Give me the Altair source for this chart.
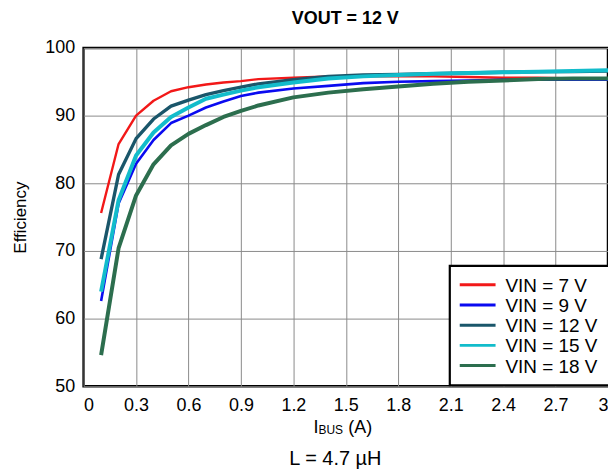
import altair as alt
import pandas as pd

# Load current I_BUS (A)
current = [0.1, 0.2, 0.3, 0.4, 0.5, 0.6, 0.7, 0.8, 0.9, 1.0,
           1.2, 1.4, 1.6, 1.8, 2.0, 2.2, 2.4, 2.6, 2.8, 3.0]

# Efficiency (%) per input voltage
eff_vin7 = [75.6, 85.8, 90.0, 92.2, 93.6, 94.2, 94.6, 94.9, 95.1, 95.4,
            95.6, 95.8, 95.8, 95.8, 95.8, 95.7, 95.6, 95.6, 95.5, 95.4]
eff_vin9 = [62.6, 77.0, 82.9, 86.4, 88.9, 90.0, 91.2, 92.1, 92.9, 93.4,
            94.0, 94.4, 94.8, 95.0, 95.1, 95.2, 95.3, 95.3, 95.3, 95.3]
eff_vin12 = [68.8, 81.3, 86.6, 89.5, 91.4, 92.3, 93.1, 93.7, 94.2, 94.7,
             95.3, 95.8, 96.0, 96.1, 96.2, 96.3, 96.4, 96.5, 96.5, 96.6]
eff_vin15 = [64.0, 77.5, 84.1, 87.5, 89.8, 91.2, 92.5, 93.1, 93.7, 94.2,
             94.9, 95.5, 95.8, 96.0, 96.2, 96.3, 96.4, 96.5, 96.6, 96.7]
eff_vin18 = [54.6, 70.4, 78.2, 82.8, 85.6, 87.3, 88.6, 89.8, 90.7, 91.5,
             92.7, 93.4, 93.9, 94.3, 94.7, 95.0, 95.2, 95.4, 95.5, 95.5]

series_names = ["VIN = 7 V", "VIN = 9 V", "VIN = 12 V", "VIN = 15 V", "VIN = 18 V"]
series_values = [eff_vin7, eff_vin9, eff_vin12, eff_vin15, eff_vin18]
series_colors = ["#F21818", "#0A0AF0", "#1A566A", "#12BCCB", "#2C6E4E"]
series_widths = [2.4, 2.6, 3.4, 4.0, 4.0]

x_ticks = [0, 0.3, 0.6, 0.9, 1.2, 1.5, 1.8, 2.1, 2.4, 2.7, 3]
y_ticks = [50, 60, 70, 80, 90, 100]

rows = []
for name, vals, w in zip(series_names, series_values, series_widths):
    for i, v in zip(current, vals):
        rows.append({"I": i, "eff": v, "series": name, "w": w})
df = pd.DataFrame(rows)

FONT = "Liberation Sans"
W, H = 527, 340

base = alt.Chart(df).mark_line(strokeJoin="round", strokeCap="butt").encode(
    x=alt.X("I:Q", scale=alt.Scale(domain=[0, 3], nice=False, zero=False),
            axis=alt.Axis(values=x_ticks, format=".1~f", title=None,
                          labelFontSize=18, labelPadding=10)),
    y=alt.Y("eff:Q", scale=alt.Scale(domain=[50, 100], nice=False, zero=False),
            axis=alt.Axis(values=y_ticks, title="Efficiency", titleFontSize=17,
                          titleFontWeight="normal", labelFontSize=18,
                          labelPadding=9, titlePadding=15)),
    color=alt.Color("series:N",
                    scale=alt.Scale(domain=series_names, range=series_colors),
                    legend=None),
    strokeWidth=alt.StrokeWidth("w:Q", scale=None, legend=None),
)

layers = [base.transform_filter(alt.datum.series == name) for name in series_names]

def label(text, x, y, size, weight="normal", align="center"):
    return alt.Chart(pd.DataFrame({"t": [text]})).mark_text(
        font=FONT, fontSize=size, fontWeight=weight, color="black",
        align=align, baseline="alphabetic"
    ).encode(text="t:N", x=alt.value(x), y=alt.value(y))

texts = [
    label("VOUT = 12 V", 263, -24, 18, weight="bold"),
    label("I", 231, 387, 18, align="left"),
    label("BUS", 236, 388, 12, align="left"),
    label("(A)", 266, 387, 18, align="left"),
    label("L = 4.7 µH", 253, 419, 20),
]

# Legend box (drawn as a guide in the lower-right corner of the plot)
LX0, LX1, LY0, LY1 = 368, 529, 219, 339
legend_box = alt.Chart(pd.DataFrame({"k": [0]})).mark_rect(
    fill="white", stroke="black", strokeWidth=2.2
).encode(x=alt.value(LX0), x2=alt.value(LX1), y=alt.value(LY0), y2=alt.value(LY1))

legend_items = []
for k, (name, color) in enumerate(zip(series_names, series_colors)):
    yk = 238 + k * 20.3
    legend_items.append(
        alt.Chart(pd.DataFrame({"s": [name]})).mark_rule(
            color=color, strokeWidth=3
        ).encode(x=alt.value(378), x2=alt.value(414), y=alt.value(yk))
    )
    legend_items.append(
        alt.Chart(pd.DataFrame({"s": [name]})).mark_text(
            font=FONT, fontSize=19, color="black", align="left", baseline="middle"
        ).encode(text="s:N", x=alt.value(424), y=alt.value(yk + 1))
    )

chart = alt.layer(*layers, legend_box, *legend_items, *texts).properties(
    width=W, height=H,
    autosize=alt.AutoSizeParams(type="none"),
    padding={"left": 76, "top": 39, "right": 0, "bottom": 84},
).configure_view(
    stroke="black", strokeWidth=2.5
).configure_axis(
    domain=False, ticks=False, grid=True, gridColor="#8a8a8a", gridWidth=1,
    labelFont=FONT, titleFont=FONT, labelColor="black", titleColor="black"
)

chart.save("out.html", embed_options={"renderer": "svg", "actions": False})
